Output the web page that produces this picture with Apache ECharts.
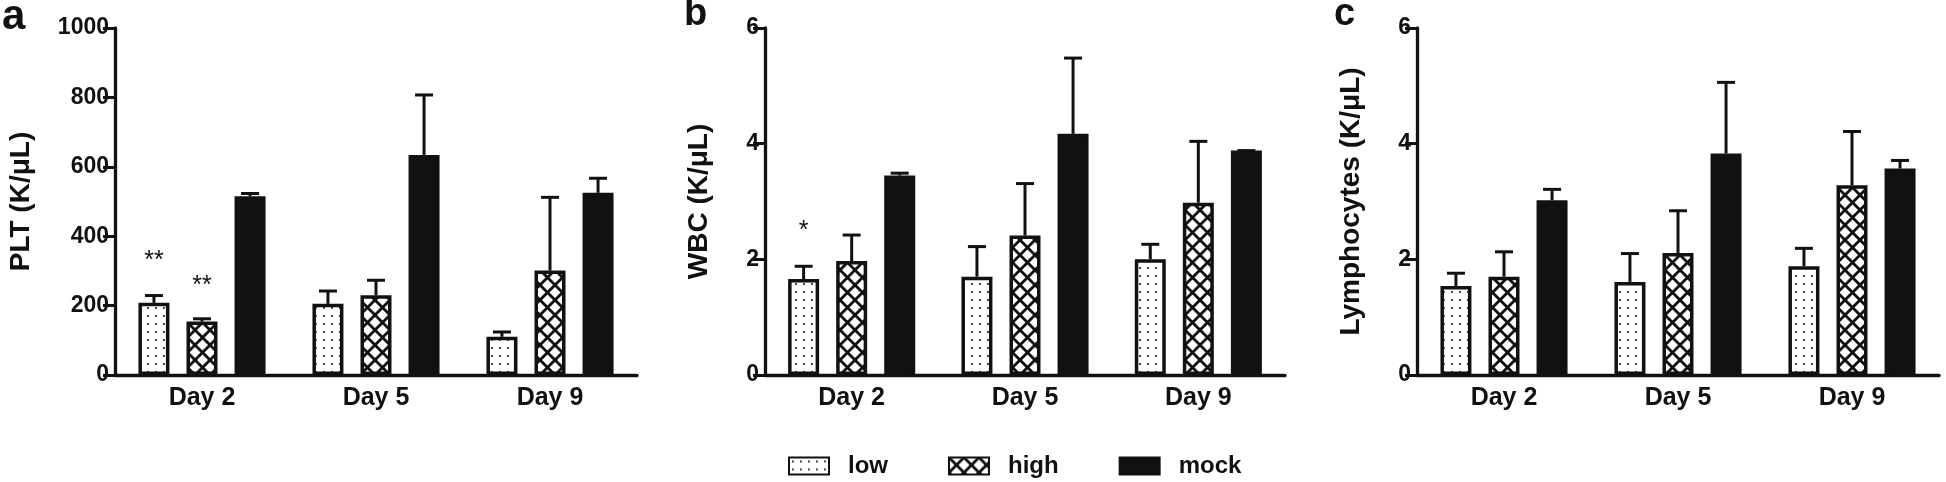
<!DOCTYPE html>
<html>
<head>
<meta charset="utf-8">
<script src="https://cdn.jsdelivr.net/npm/echarts@6/dist/echarts.min.js"></script>
<style>
html,body{margin:0;padding:0;background:#fff;}
#chart{width:1946px;height:482px;}
</style>
</head>
<body>
<div id="chart"></div>
<script>
// ---------- data ----------
const categories = ['Day 2', 'Day 5', 'Day 9'];
const groupNames = ['low', 'high', 'mock'];

// Panel a: PLT (K/μL)
const pltLow = [208, 205, 110];
const pltLowUpper = [229, 242, 124];
const pltHigh = [154, 230, 301];
const pltHighUpper = [162, 273, 512];
const pltMock = [515, 634, 525];
const pltMockUpper = [523, 807, 567];

// Panel b: WBC (K/μL)
const wbcLow = [1.66, 1.70, 2.00];
const wbcLowUpper = [1.88, 2.22, 2.26];
const wbcHigh = [1.97, 2.41, 2.98];
const wbcHighUpper = [2.42, 3.31, 4.04];
const wbcMock = [3.45, 4.17, 3.88];
const wbcMockUpper = [3.49, 5.48, 3.88];

// Panel c: Lymphocytes (K/μL)
const lymLow = [1.54, 1.61, 1.88];
const lymLowUpper = [1.76, 2.10, 2.19];
const lymHigh = [1.70, 2.11, 3.28];
const lymHighUpper = [2.13, 2.84, 4.21];
const lymMock = [3.02, 3.83, 3.57];
const lymMockUpper = [3.21, 5.06, 3.71];

// axis settings
const yTitles = ['PLT (K/\u03bcL)', 'WBC (K/\u03bcL)', 'Lymphocytes (K/\u03bcL)'];
const yMax = [1000, 6, 6];
const yInterval = [200, 2, 2];
const panelLetters = ['a', 'b', 'c'];

// significance marks: [panel, group, category, y, text]
const stars = [
  [0, 0, 0, 327, '**'],
  [0, 1, 0, 255, '**'],
  [1, 0, 0, 2.48, '*']
];

// ---------- layout / style ----------
const FONT = 'Liberation Sans, Arial, Helvetica, sans-serif';
const INK = '#111';
const grids = [
  {left: 115, top: 28, width: 522, height: 347},
  {left: 765, top: 28, width: 520, height: 347},
  {left: 1417, top: 28, width: 522, height: 347}
];
const nameGaps = [80, 52, 52];
const letterX = [2, 684, 1334];
const BAR_W = 31;
const BAR_GAP = 0.55;
const groupOffsets = [-BAR_W * (1 + BAR_GAP), 0, BAR_W * (1 + BAR_GAP)];

function dotPattern() {
  const c = document.createElement('canvas');
  c.width = 8; c.height = 8;
  const g = c.getContext('2d');
  g.fillStyle = '#fff'; g.fillRect(0, 0, 8, 8);
  g.fillStyle = '#222'; g.fillRect(3, 3, 1.8, 1.8);
  return c;
}
function crossPattern() {
  const s = 15;
  const c = document.createElement('canvas');
  c.width = s; c.height = s;
  const g = c.getContext('2d');
  g.fillStyle = '#fff'; g.fillRect(0, 0, s, s);
  g.strokeStyle = INK; g.lineWidth = 2.8;
  for (const o of [-s, 0, s]) {
    g.beginPath(); g.moveTo(o, 0); g.lineTo(o + s, s); g.stroke();
    g.beginPath(); g.moveTo(o + s, 0); g.lineTo(o, s); g.stroke();
  }
  return c;
}
const fills = [
  {image: dotPattern(), repeat: 'repeat'},
  {image: crossPattern(), repeat: 'repeat'},
  INK
];

const means = [
  [pltLow, pltHigh, pltMock],
  [wbcLow, wbcHigh, wbcMock],
  [lymLow, lymHigh, lymMock]
];
const uppers = [
  [pltLowUpper, pltHighUpper, pltMockUpper],
  [wbcLowUpper, wbcHighUpper, wbcMockUpper],
  [lymLowUpper, lymHighUpper, lymMockUpper]
];

const xAxes = [], yAxes = [], series = [], graphics = [];
grids.forEach((gr, p) => {
  xAxes.push({
    type: 'category', gridIndex: p, data: categories,
    axisLine: {lineStyle: {color: INK, width: 3.3}},
    axisTick: {alignWithLabel: true, length: 9, lineStyle: {color: INK, width: 3}},
    axisLabel: {color: INK, fontFamily: FONT, fontWeight: 'bold', fontSize: 25, margin: 11},
    splitLine: {show: false}
  });
  yAxes.push({
    type: 'value', gridIndex: p, min: 0, max: yMax[p], interval: yInterval[p],
    name: yTitles[p], nameLocation: 'middle', nameGap: nameGaps[p], nameRotate: 90,
    nameTextStyle: {color: INK, fontFamily: FONT, fontWeight: 'bold', fontSize: 28},
    axisLine: {show: true, lineStyle: {color: INK, width: 3.3}},
    axisTick: {show: true, length: 12, lineStyle: {color: INK, width: 3}},
    axisLabel: {color: INK, fontFamily: FONT, fontWeight: 'bold', fontSize: 23, margin: 6,
      formatter: v => String(v)},
    splitLine: {show: false}
  });
  groupNames.forEach((nm, k) => {
    series.push({
      type: 'bar', name: nm, xAxisIndex: p, yAxisIndex: p,
      data: means[p][k], barWidth: BAR_W, barGap: (BAR_GAP * 100) + '%',
      itemStyle: {color: fills[k], borderColor: INK, borderWidth: 3.5},
      z: 3, emphasis: {disabled: true}
    });
    const off = groupOffsets[k];
    series.push({
      type: 'custom', xAxisIndex: p, yAxisIndex: p, z: 2, silent: true,
      data: categories.map((c, i) => [i, means[p][k][i], uppers[p][k][i]]),
      encode: {x: 0, y: [1, 2]},
      renderItem: (params, api) => {
        const i = api.value(0);
        const b = api.coord([i, api.value(1)]);
        const t = api.coord([i, api.value(2)]);
        const cx = b[0] + off;
        return {
          type: 'group', children: [
            {type: 'line', shape: {x1: cx, y1: b[1], x2: cx, y2: t[1]}, style: {stroke: INK, lineWidth: 3}},
            {type: 'line', shape: {x1: cx - 9, y1: t[1], x2: cx + 9, y2: t[1]}, style: {stroke: INK, lineWidth: 3}}
          ]
        };
      }
    });
  });
  const myStars = stars.filter(s => s[0] === p);
  if (myStars.length) {
    series.push({
      type: 'custom', xAxisIndex: p, yAxisIndex: p, z: 4, silent: true,
      data: myStars.map(s => [s[2], s[3], s[1], s[4]]),
      encode: {x: 0, y: 1},
      renderItem: (params, api) => {
        const s = myStars[params.dataIndex];
        const pt = api.coord([s[2], s[3]]);
        return {
          type: 'text',
          style: {x: pt[0] + groupOffsets[s[1]], y: pt[1], text: s[4], fill: INK,
            font: 'normal 25px ' + FONT, textAlign: 'center', textVerticalAlign: 'middle'}
        };
      }
    });
  }
  graphics.push({
    type: 'text', left: letterX[p], top: -4,
    style: {text: panelLetters[p], fill: INK, font: 'bold ' + (p === 0 ? 42 : 38) + 'px ' + FONT}
  });
});

const chart = echarts.init(document.getElementById('chart'), null, {renderer: 'canvas'});
chart.setOption({
  animation: false,
  backgroundColor: '#fff',
  grid: grids.map(g => Object.assign({containLabel: false}, g)),
  xAxis: xAxes,
  yAxis: yAxes,
  series: series,
  graphic: graphics,
  legend: {
    data: groupNames, left: 788, top: 454, padding: 0,
    itemWidth: 40, itemHeight: 17, itemGap: 60,
    icon: 'rect',
    textStyle: {color: INK, fontFamily: FONT, fontWeight: 'bold', fontSize: 24, padding: [0, 0, 0, 14]}
  }
});
</script>
</body>
</html>
